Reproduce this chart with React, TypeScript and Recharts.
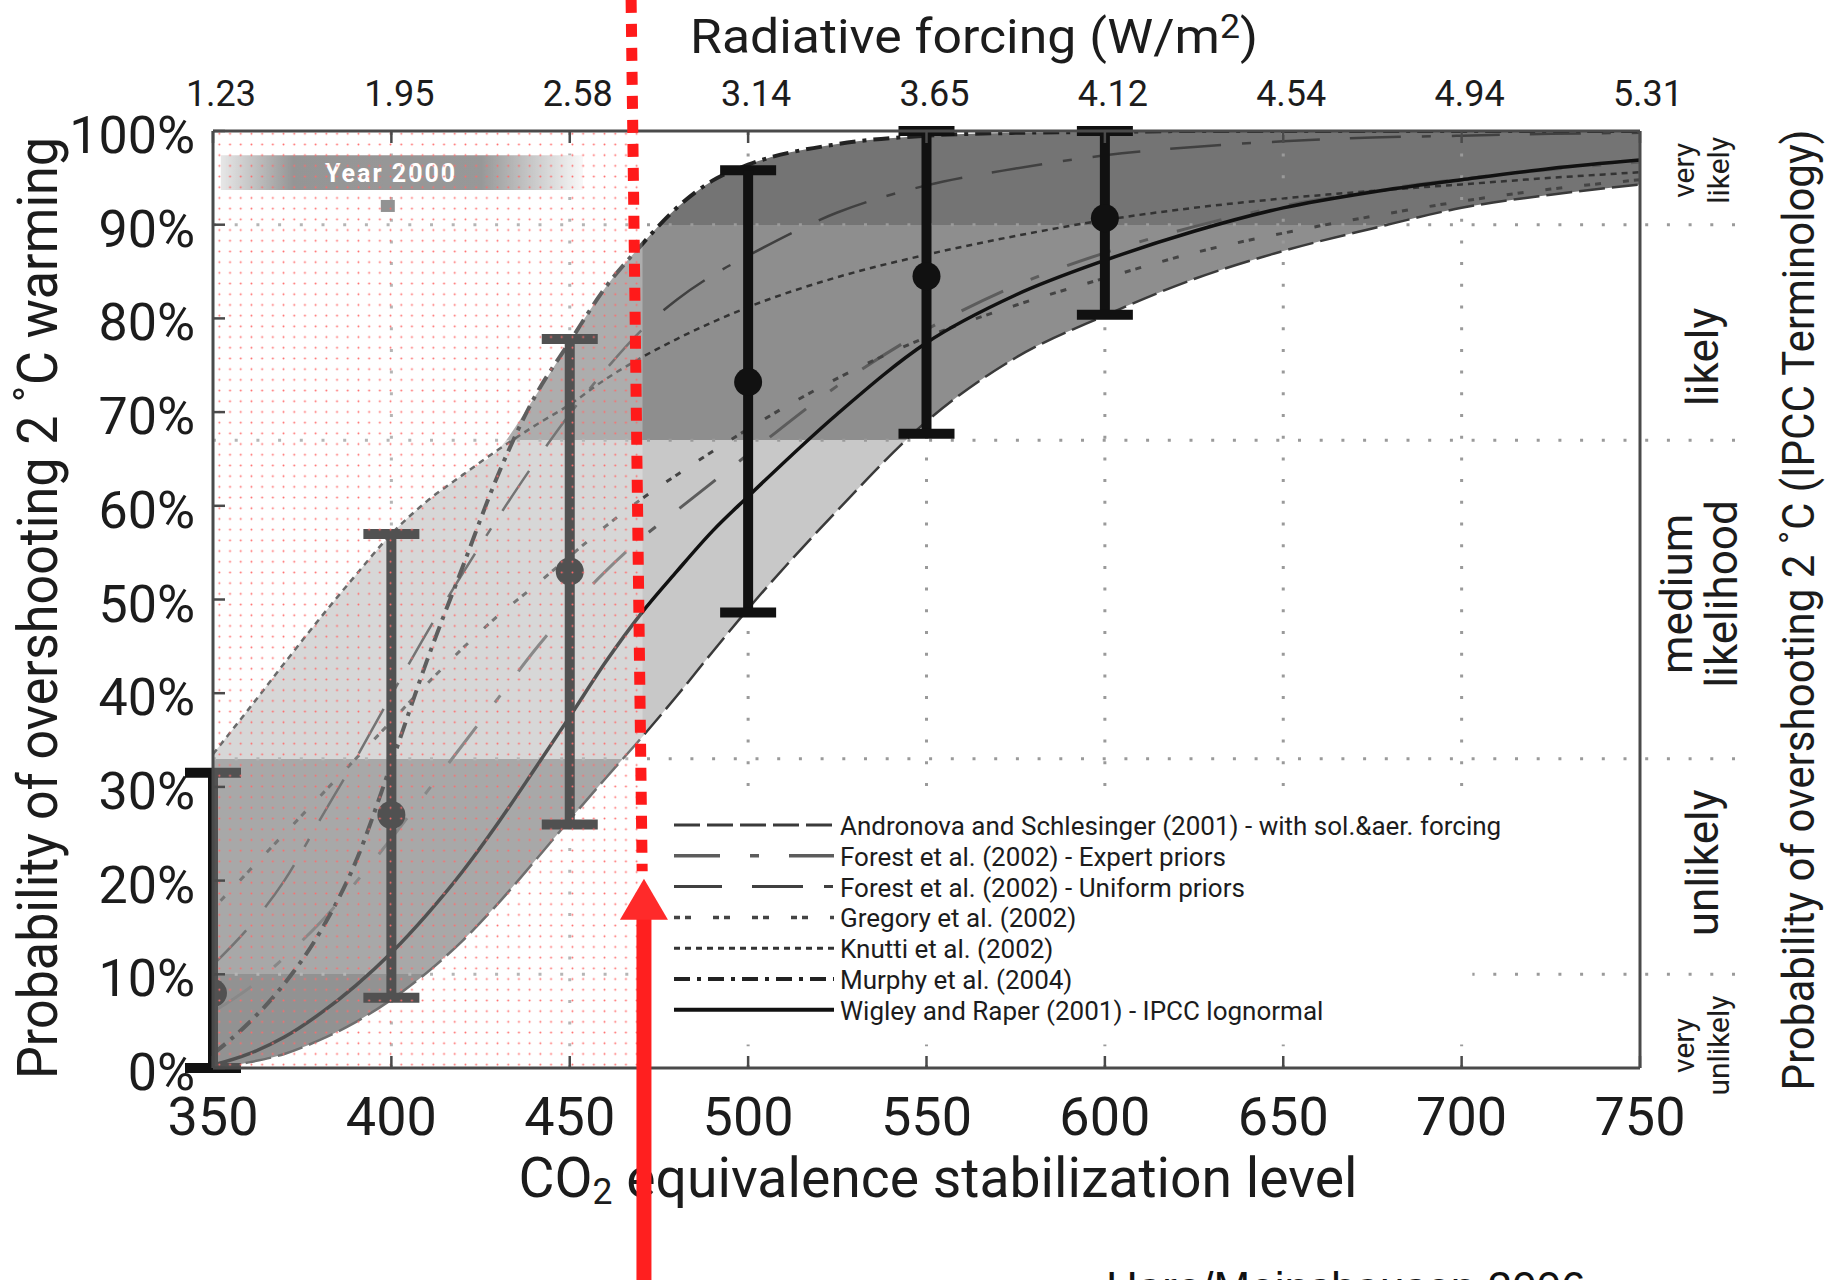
import React from 'react';
import {
  ComposedChart,
  Line,
  Area,
  Scatter,
  ErrorBar,
  XAxis,
  YAxis,
  ReferenceLine,
  ReferenceArea,
  ReferenceDot,
  Legend,
} from 'recharts';

// ---------------- data ----------------
const CO2 = [350, 360, 370, 380, 390, 400, 410, 420, 430, 440, 450, 460, 470, 480, 490, 500, 525, 550, 575, 600, 625, 650, 675, 700, 725, 750];

const ANDRONOVA = [0, 0.6, 1.5, 3.0, 4.9, 7.3, 10.2, 13.6, 17.6, 22.0, 26.5, 30.9, 35.2, 39.7, 44.4, 49.0, 59.5, 69.0, 75.8, 80.3, 84.2, 87.2, 89.6, 91.8, 93.2, 94.3];
const FOREST_EXPERT = [6, 8.5, 11.8, 15.5, 19.8, 24.5, 29.5, 34.5, 39.5, 44.5, 49, 53, 56.5, 59.5, 62.5, 65.5, 72.8, 78.8, 83.5, 87, 89.8, 92, 93.6, 94.9, 95.9, 96.7];
const FOREST_UNIFORM = [11, 15, 20, 26.5, 33, 39.8, 46.5, 52.8, 58.8, 64.5, 69.8, 74.5, 78.7, 82.0, 84.6, 86.7, 91.3, 94.2, 96.0, 97.4, 98.3, 98.9, 99.3, 99.5, 99.7, 99.8];
const GREGORY = [17, 21, 25, 29, 33, 37, 41, 44.8, 48.3, 51.4, 54.6, 57.8, 60.7, 63.3, 65.8, 68.2, 73.6, 78, 81.4, 84.3, 87, 89.1, 90.9, 92.5, 93.8, 94.8];
const KNUTTI = [33.5, 38.3, 43.2, 48.0, 52.6, 57.0, 60.5, 63.3, 66.0, 68.5, 70.8, 73.5, 75.8, 77.8, 79.6, 81.2, 84.4, 86.8, 88.8, 90.5, 91.8, 92.8, 93.6, 94.3, 95.0, 95.6];
const MURPHY = [1.5, 4.8, 9.0, 14.5, 22.0, 32.5, 43.5, 53.5, 63.4, 71.5, 77.5, 83.3, 87.8, 91.8, 94.7, 96.4, 98.6, 99.5, 99.8, 99.9, 100, 100, 100, 100, 100, 100];
const WIGLEY = [0.3, 1.5, 3.3, 5.8, 8.8, 12.3, 16.4, 21.0, 26.2, 31.8, 37.5, 43.3, 48.5, 53.0, 57.3, 61.0, 69.8, 77.4, 82.5, 86.2, 89.3, 91.8, 93.5, 94.8, 96.0, 96.9];

// error bars
const EB_CO2 = [350, 400, 450, 500, 550, 600];
const EB_MID = [8, 27, 53, 73.2, 84.5, 90.7];
const EB_LOW = [0, 7.5, 26, 48.6, 67.7, 80.4];
const EB_HIGH = [31.5, 57, 77.8, 95.8, 100, 100];

// axes / ticks
const CO2_TICKS = [350, 400, 450, 500, 550, 600, 650, 700, 750];
const FORCING_LABELS = ['1.23', '1.95', '2.58', '3.14', '3.65', '4.12', '4.54', '4.94', '5.31'];
const PCT_TICKS = [0, 10, 20, 30, 40, 50, 60, 70, 80, 90, 100];
const BAND_LIMITS = [10, 33, 67, 90];
const GRID_CO2 = [400, 450, 500, 550, 600, 650, 700];
const GUIDE_END_CO2 = 777;
const LIKELIHOOD_POS = [95.8, 75.9, 50.6, 21.9, 2.4];
const LIKELIHOOD_LABELS = [['very', 'likely'], ['likely'], ['medium', 'likelihood'], ['unlikely'], ['very', 'unlikely']];

// annotations
const YEAR_BANNER_CO2 = [352.2, 453.7];
const YEAR_BANNER_PROB = [93.7, 97.4];
const YEAR_MARK_CO2 = 399;
const YEAR_MARK_PROB = 92;
const OVERLAY_CO2 = [350, 470.4];
const LEGEND_AREA_CO2 = [470.6, 703];
const LEGEND_AREA_PROB = [2.5, 29];
const MARKER_CO2 = [467.2, 470.3];
const MARKER_PROB = [114, 21];
const ARROW_CO2 = 470.8;
const ARROW_TIP_PROB = 20.2;
const ARROW_SHAFT_PROB = [16.5, -24];

// ---------------- styles ----------------
const FONT = 'Roboto, "DejaVu Sans", sans-serif';
const INK = '#1c1c1c';
const AXIS = '#4a4a4a';

const SERIES = [
  { key: 'andronova', name: 'Andronova and Schlesinger (2001) - with sol.&aer. forcing', values: ANDRONOVA, color: '#3a3a3a', width: 2.5, dash: '26 7' },
  { key: 'forestExpert', name: 'Forest et al. (2002) - Expert priors', values: FOREST_EXPERT, color: '#5c5c5c', width: 3, dash: '46 30 9 30' },
  { key: 'forestUniform', name: 'Forest et al. (2002) - Uniform priors', values: FOREST_UNIFORM, color: '#404040', width: 2.5, dash: '48 30 51 21 9 21' },
  { key: 'gregory', name: 'Gregory et al. (2002)', values: GREGORY, color: '#444444', width: 3, dash: '6 5 6 22' },
  { key: 'knutti', name: 'Knutti et al. (2002)', values: KNUTTI, color: '#333333', width: 2.5, dash: '6 5' },
  { key: 'murphy', name: 'Murphy et al. (2004)', values: MURPHY, color: '#222222', width: 4, dash: '16 7 4 7' },
  { key: 'wigley', name: 'Wigley and Raper (2001) - IPCC lognormal', values: WIGLEY, color: '#111111', width: 3.5, dash: undefined as string | undefined },
];

const BAND_FILLS = ['#747474', '#8e8e8e', '#c8c8c8', '#888888', '#6a6a6a']; // 100-90, 90-67, 67-33, 33-10, 10-0

const RIGHT_TEXT = [
  { size: 30, dx: [54, 89] },
  { size: 44, dx: [78] },
  { size: 44, dx: [52, 97] },
  { size: 44, dx: [78] },
  { size: 30, dx: [54, 89] },
];

// ---------------- derived tables ----------------
const chartRows = CO2.map((co2, i) => {
  const row: Record<string, any> = { co2 };
  const vals: number[] = [];
  SERIES.forEach((s) => {
    row[s.key] = s.values[i];
    vals.push(s.values[i]);
  });
  row.envelope = [Math.min(...vals), Math.max(...vals)];
  return row;
});

const errorRows = EB_CO2.map((co2, i) => ({
  co2,
  prob: EB_MID[i],
  err: [EB_MID[i] - EB_LOW[i], EB_HIGH[i] - EB_MID[i]],
}));

const bandBounds = [100, ...[...BAND_LIMITS].reverse(), 0];

// ---------------- render helpers ----------------
const BottomTick = (p: any) => (
  <text x={p.x} y={p.y} dy="0.71em" textAnchor="middle" fontFamily={FONT} fontSize={54} fill={INK}>
    {p.payload.value}
  </text>
);

const TopTick = (p: any) => {
  const i = CO2_TICKS.indexOf(p.payload.value);
  return (
    <text x={p.x + 8} y={p.y} textAnchor="middle" fontFamily={FONT} fontSize={36} fill={INK}>
      {FORCING_LABELS[i]}
    </text>
  );
};

const LeftTick = (p: any) => (
  <text x={p.x} y={p.y + 22} textAnchor="end" fontFamily={FONT} fontSize={52} fill={INK}>
    {`${p.payload.value}%`}
  </text>
);

const RightTick = (p: any) => {
  const i = LIKELIHOOD_POS.indexOf(p.payload.value);
  if (i < 0) return <g />;
  const st = RIGHT_TEXT[i];
  return (
    <g>
      {LIKELIHOOD_LABELS[i].map((t, k) => {
        const x = p.x + st.dx[k];
        return (
          <text key={k} x={x} y={p.y} transform={`rotate(-90 ${x} ${p.y})`} textAnchor="middle" fontFamily={FONT} fontSize={st.size} fill={INK}>
            {t}
          </text>
        );
      })}
    </g>
  );
};

const TopTitle = () => (
  <text x={974} y={53} textAnchor="middle" fontFamily={FONT} fontSize={48} fill={INK} textLength={568} lengthAdjust="spacingAndGlyphs">
    Radiative forcing (W/m<tspan fontSize={33} dy={-15}>2</tspan>
    <tspan dy={15}>)</tspan>
  </text>
);

const BottomTitle = () => (
  <g>
    <text x={938} y={1197} textAnchor="middle" fontFamily={FONT} fontSize={56} fill={INK} textLength={839} lengthAdjust="spacingAndGlyphs">
      CO<tspan fontSize={36} dy={7}>2</tspan>
      <tspan dy={-7}> equivalence stabilization level</tspan>
    </text>
    <text x={1106} y={1303} fontFamily='"Liberation Sans", Arial, sans-serif' fontSize={44} fill="#111">
      Hare/Meinshausen 2006
    </text>
  </g>
);

const LeftTitle = () => (
  <text x={57} y={608} transform="rotate(-90 57 608)" textAnchor="middle" fontFamily={FONT} fontSize={55} fill={INK} textLength={942} lengthAdjust="spacingAndGlyphs">
    Probability of overshooting 2 ˚C warming
  </text>
);

const RightTitle = () => (
  <text x={1814} y={610} transform="rotate(-90 1814 610)" textAnchor="middle" fontFamily={FONT} fontSize={45} fill={INK} textLength={961} lengthAdjust="spacingAndGlyphs">
    Probability of overshooting 2 ˚C (IPCC Terminology)
  </text>
);

const LegendBox = () => (
  <svg width={960} height={250} style={{ display: 'block', overflow: 'visible' }}>
    {SERIES.map((s, i) => {
      const y = 40 + i * 30.8;
      return (
        <g key={s.key}>
          <line x1={22} x2={182} y1={y - 10} y2={y - 10} stroke={s.color} strokeWidth={Math.min(s.width + 0.5, 4)} strokeDasharray={s.dash} />
          <text x={188} y={y} fontFamily={FONT} fontSize={26} fill={INK}>
            {s.name}
          </text>
        </g>
      );
    })}
  </svg>
);

export default function App() {
  return (
    <div style={{ position: 'fixed', left: 0, top: 0, width: 1828, height: 1280, background: '#fff' }}>
      <ComposedChart width={1828} height={1280} data={chartRows} margin={{ top: 0, right: 0, bottom: 0, left: 0 }}>
        <defs>
          <linearGradient id="bandFill" x1="0" y1="0" x2="0" y2="1">
            {BAND_FILLS.flatMap((c, j) => [
              <stop key={`a${j}`} offset={(100 - bandBounds[j]) / 100} stopColor={c} />,
              <stop key={`b${j}`} offset={(100 - bandBounds[j + 1]) / 100} stopColor={c} />,
            ])}
          </linearGradient>
          <linearGradient id="yearFill" x1="0" y1="0" x2="1" y2="0">
            <stop offset="0" stopColor="#dedede" />
            <stop offset="0.2" stopColor="#6e6e6e" />
            <stop offset="0.72" stopColor="#727272" />
            <stop offset="1" stopColor="#f6f6f6" />
          </linearGradient>
          <pattern id="pinkDots" width="10.7" height="10.7" patternUnits="userSpaceOnUse">
            <rect width="10.7" height="10.7" fill="#ffffff" fillOpacity="0.27" />
            <circle cx="5.35" cy="5.35" r="0.95" fill="#ff6a6a" />
          </pattern>
        </defs>

        <Area
          dataKey="envelope"
          type="monotone"
          fill="url(#bandFill)"
          fillOpacity={1}
          stroke="none"
          isAnimationActive={false}
          activeDot={false}
          zIndex={100}
        />

        {GRID_CO2.map((x) => (
          <ReferenceLine key={`gx${x}`} x={x} stroke="#9a9a9a" strokeWidth={3} strokeDasharray="3 18.7" zIndex={110} />
        ))}
        {BAND_LIMITS.map((y) => (
          <ReferenceLine
            key={`gy${y}`}
            segment={[{ x: CO2[0], y }, { x: GUIDE_END_CO2, y }]}
            ifOverflow="visible"
            stroke="#9a9a9a"
            strokeWidth={3}
            strokeDasharray="3 18.7"
            zIndex={110}
          />
        ))}

        <ReferenceArea
          x1={LEGEND_AREA_CO2[0]}
          x2={LEGEND_AREA_CO2[1]}
          y1={LEGEND_AREA_PROB[0]}
          y2={LEGEND_AREA_PROB[1]}
          fill="#ffffff"
          fillOpacity={1}
          stroke="none"
          zIndex={115}
        />

        {SERIES.map((s) => (
          <Line
            key={s.key}
            dataKey={s.key}
            name={s.name}
            type="monotone"
            stroke={s.color}
            strokeWidth={s.width}
            strokeDasharray={s.dash}
            dot={false}
            activeDot={false}
            isAnimationActive={false}
            zIndex={400}
          />
        ))}

        <Scatter
          data={errorRows}
          dataKey="prob"
          isAnimationActive={false}
          zIndex={450}
          shape={(p: any) => <circle cx={p.cx} cy={p.cy} r={14} fill="#111" />}
        >
          <ErrorBar dataKey="err" direction="y" width={28} strokeWidth={10} stroke="#111" zIndex={450} />
        </Scatter>

        <ReferenceArea
          x1={YEAR_BANNER_CO2[0]}
          x2={YEAR_BANNER_CO2[1]}
          y1={YEAR_BANNER_PROB[0]}
          y2={YEAR_BANNER_PROB[1]}
          fill="url(#yearFill)"
          fillOpacity={1}
          stroke="none"
          zIndex={460}
          label={(p: any) => {
            const vb = p.viewBox || {};
            return (
              <text
                x={vb.x + vb.width * 0.47}
                y={vb.y + vb.height / 2 + 9}
                textAnchor="middle"
                fontFamily={FONT}
                fontSize={25}
                fontWeight={700}
                letterSpacing={2}
                fill="#ffffff"
              >
                Year 2000
              </text>
            );
          }}
        />
        <ReferenceDot
          x={YEAR_MARK_CO2}
          y={YEAR_MARK_PROB}
          zIndex={460}
          shape={(p: any) => <rect x={p.cx - 7} y={p.cy - 6} width={14} height={12} fill="#6a6a6a" />}
        />

        <ReferenceArea
          x1={OVERLAY_CO2[0]}
          x2={OVERLAY_CO2[1]}
          y1={0}
          y2={100}
          fill="url(#pinkDots)"
          fillOpacity={1}
          stroke="none"
          zIndex={470}
        />

        <XAxis
          xAxisId={0}
          dataKey="co2"
          type="number"
          domain={[350, 750]}
          ticks={CO2_TICKS}
          interval={0}
          height={212}
          tickSize={-12}
          tickMargin={41}
          tick={BottomTick}
          axisLine={{ stroke: AXIS, strokeWidth: 3 }}
          tickLine={{ stroke: AXIS, strokeWidth: 2.5 }}
          label={<BottomTitle />}
          allowDataOverflow
        />
        <XAxis
          xAxisId="top"
          orientation="top"
          dataKey="co2"
          type="number"
          domain={[350, 750]}
          ticks={CO2_TICKS}
          interval={0}
          height={131}
          tickSize={-12}
          tickMargin={37}
          tick={TopTick}
          axisLine={{ stroke: AXIS, strokeWidth: 3 }}
          tickLine={{ stroke: AXIS, strokeWidth: 2.5 }}
          label={<TopTitle />}
          allowDataOverflow
        />
        <YAxis
          yAxisId={0}
          type="number"
          domain={[0, 100]}
          ticks={PCT_TICKS}
          interval={0}
          width={213}
          tickSize={-12}
          tickMargin={30}
          tick={LeftTick}
          axisLine={{ stroke: AXIS, strokeWidth: 3 }}
          tickLine={{ stroke: AXIS, strokeWidth: 2.5 }}
          label={<LeftTitle />}
          allowDataOverflow
        />
        <YAxis
          yAxisId="r"
          orientation="right"
          type="number"
          domain={[0, 100]}
          ticks={LIKELIHOOD_POS}
          interval={0}
          width={188}
          tickSize={0}
          tickMargin={0}
          tick={RightTick}
          tickLine={false}
          axisLine={{ stroke: AXIS, strokeWidth: 3 }}
          label={<RightTitle />}
          allowDataOverflow
        />

        <Legend
          layout="vertical"
          align="center"
          verticalAlign="middle"
          content={() => <LegendBox />}
          wrapperStyle={{ position: 'absolute', left: 652, top: 795, width: 960, height: 250 }}
        />

        <ReferenceLine
          segment={[{ x: MARKER_CO2[0], y: MARKER_PROB[0] }, { x: MARKER_CO2[1], y: MARKER_PROB[1] }]}
          ifOverflow="visible"
          stroke="#ff1a1a"
          strokeWidth={11}
          strokeDasharray="13 11"
          zIndex={700}
        />
        <ReferenceLine
          segment={[{ x: ARROW_CO2, y: ARROW_SHAFT_PROB[0] }, { x: ARROW_CO2, y: ARROW_SHAFT_PROB[1] }]}
          ifOverflow="visible"
          stroke="#ff1f1f"
          strokeWidth={15}
          zIndex={700}
        />
        <ReferenceDot
          x={ARROW_CO2}
          y={ARROW_TIP_PROB}
          ifOverflow="visible"
          zIndex={710}
          shape={(p: any) => (
            <polygon points={`${p.cx},${p.cy} ${p.cx - 24},${p.cy + 41} ${p.cx + 24},${p.cy + 41}`} fill="#ff2a2a" />
          )}
        />
      </ComposedChart>
    </div>
  );
}
